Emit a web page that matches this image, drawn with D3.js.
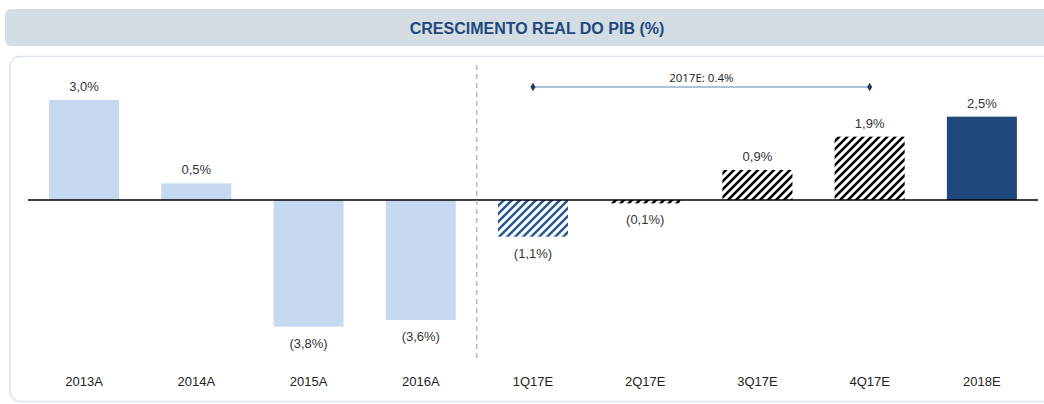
<!DOCTYPE html>
<html>
<head>
<meta charset="utf-8">
<script src="https://cdn.jsdelivr.net/npm/d3@7"></script>
<style>
  html, body { margin: 0; padding: 0; background: #fff; }
  svg { display: block; }
</style>
</head>
<body>
<svg id="chart" width="1044" height="404"></svg>
<script>
const title = "CRESCIMENTO REAL DO PIB (%)";
const categories = ["2013A", "2014A", "2015A", "2016A", "1Q17E", "2Q17E", "3Q17E", "4Q17E", "2018E"];
const values = [3.0, 0.5, -3.8, -3.6, -1.1, -0.1, 0.9, 1.9, 2.5];
const status = ["actual", "actual", "actual", "actual", "quarterActual", "quarterEstimate", "quarterEstimate", "quarterEstimate", "yearEstimate"];
const annualLabel = "2017E: 0.4%";
const annualFrom = "1Q17E";
const annualTo = "4Q17E";

const svg = d3.select("#chart");
const defs = svg.append("defs");

function hatch(id, color) {
  const p = defs.append("pattern")
    .attr("id", id).attr("patternUnits", "userSpaceOnUse")
    .attr("width", 8).attr("height", 8);
  p.append("rect").attr("width", 8).attr("height", 8).attr("fill", "#fff");
  p.append("path")
    .attr("d", "M-2,2 L2,-2 M0,8 L8,0 M6,10 L10,6")
    .attr("stroke", color).attr("stroke-width", 2.6).attr("stroke-linecap", "square");
}
hatch("hatchBlue", "#2b5a8e");
hatch("hatchBlack", "#000");

const fillFor = {
  actual: "#c6d9f1",
  quarterActual: "url(#hatchBlue)",
  quarterEstimate: "url(#hatchBlack)",
  yearEstimate: "#1f497d"
};

// header
svg.append("rect").attr("x", 5).attr("y", 9).attr("width", 1060).attr("height", 37)
  .attr("rx", 6).attr("fill", "#d4dde4");
svg.append("text").attr("x", 537).attr("y", 34)
  .attr("text-anchor", "middle")
  .attr("font-family", "Liberation Sans, Arial, sans-serif")
  .attr("font-weight", "bold").attr("font-size", 16)
  .attr("fill", "#1f497d")
  .text(title);

// panel
svg.append("rect").attr("x", 10).attr("y", 56.5).attr("width", 1060).attr("height", 345)
  .attr("rx", 10).attr("fill", "#fff").attr("stroke", "#dde4ea").attr("stroke-width", 1.5);

const x = d3.scaleBand().domain(categories).range([28, 1038])
  .paddingInner(0.376).paddingOuter(0.188);
const y = d3.scaleLinear().domain([0, 3]).range([200, 100]);

const fmt = v => {
  const s = Math.abs(v).toFixed(1).replace(".", ",") + "%";
  return v < 0 ? "(" + s + ")" : s;
};

const g = svg.append("g");

g.selectAll("rect.bar").data(categories).join("rect")
  .attr("class", "bar")
  .attr("x", d => x(d))
  .attr("width", x.bandwidth())
  .attr("y", (d, i) => Math.min(y(values[i]), y(0)))
  .attr("height", (d, i) => Math.abs(y(values[i]) - y(0)))
  .attr("fill", (d, i) => fillFor[status[i]]);

// value labels
g.selectAll("text.val").data(categories).join("text")
  .attr("class", "val")
  .attr("x", d => x(d) + x.bandwidth() / 2)
  .attr("y", (d, i) => values[i] >= 0 ? y(values[i]) - 9 : y(values[i]) + 21)
  .attr("text-anchor", "middle")
  .attr("font-family", "Liberation Sans, Arial, sans-serif")
  .attr("font-size", 13).attr("fill", "#333")
  .text((d, i) => fmt(values[i]));

// zero line
g.append("line").attr("x1", 28).attr("x2", 1038).attr("y1", y(0)).attr("y2", y(0))
  .attr("stroke", "#000").attr("stroke-width", 1.5);

// category axis labels
const xAxis = d3.axisBottom(x).tickSize(0).tickPadding(0);
const ax = g.append("g").attr("transform", "translate(0,377)").call(xAxis);
ax.select(".domain").remove();
ax.selectAll("text")
  .attr("font-family", "Liberation Sans, Arial, sans-serif")
  .attr("font-size", 13).attr("fill", "#222").attr("dy", "0.71em");

// dashed divider between actual and estimates
const iLast = status.lastIndexOf("actual");
const divX = x(categories[iLast]) + x.bandwidth() + (x.step() - x.bandwidth()) / 2;
g.append("line").attr("x1", divX).attr("x2", divX).attr("y1", 65).attr("y2", 362)
  .attr("stroke", "#999").attr("stroke-width", 1).attr("stroke-dasharray", "5,4");

// 2017E bracket
const bx1 = x(annualFrom) + x.bandwidth() / 2;
const bx2 = x(annualTo) + x.bandwidth() / 2;
const by = 87;
g.append("line").attr("x1", bx1).attr("x2", bx2).attr("y1", by).attr("y2", by)
  .attr("stroke", "#5b83b5").attr("stroke-width", 1);
g.selectAll("path.dia").data([bx1, bx2]).join("path")
  .attr("class", "dia")
  .attr("d", d3.symbol().type(d3.symbolDiamond).size(22))
  .attr("transform", d => `translate(${d},${by})`)
  .attr("fill", "#1f3864");
g.append("text").attr("x", (bx1 + bx2) / 2).attr("y", 82)
  .attr("text-anchor", "middle")
  .attr("font-family", "Open Sans, Liberation Sans, sans-serif")
  .attr("font-size", 11.5).attr("fill", "#222")
  .text(annualLabel);
</script>
</body>
</html>
